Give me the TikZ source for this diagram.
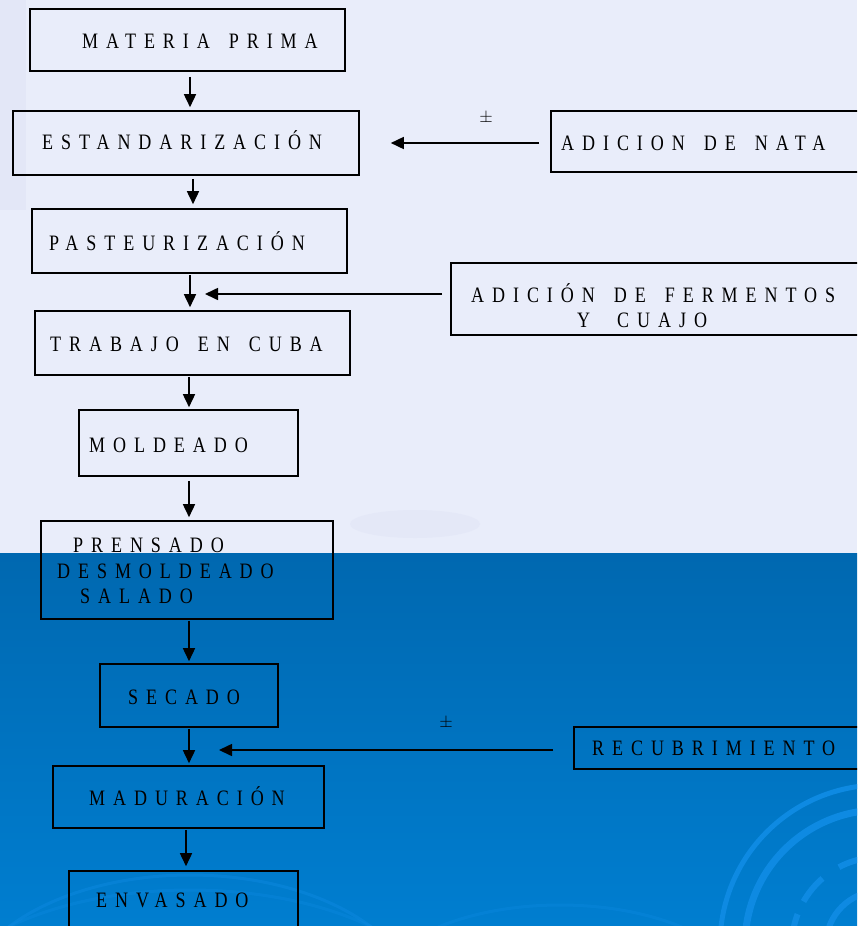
\documentclass[tikz,border=0pt]{standalone}
\usepackage{fontspec}
\setmainfont{Liberation Serif}[FakeStretch=0.82,LetterSpace=36,WordSpace=1.53]
\usetikzlibrary{arrows.meta}
\definecolor{bgtop}{RGB}{233,237,250}
\definecolor{bgsoft}{RGB}{214,218,242}
\definecolor{bluetop}{RGB}{0,104,176}
\definecolor{bluebot}{RGB}{0,126,208}
\definecolor{arcblue}{RGB}{14,138,226}
\tikzset{
  box/.style={draw=black, line width=1.6pt, inner sep=0pt},
  lbl/.style={anchor=base west, inner sep=0pt, font=\fontsize{22}{24}\selectfont},
  pm/.style={inner sep=0pt, font=\fontsize{18}{19}\selectfont},
  arr/.style={line width=1.6pt, -{Triangle[length=13pt,width=12pt]}},
  deco/.style={arcblue, line width=#1},
}
\begin{document}
\begin{tikzpicture}[x=1pt,y=-1pt]
\useasboundingbox (0,0) rectangle (857,926);
\clip (0,0) rectangle (857,926);
% background
\fill[bgtop] (0,0) rectangle (857,553);
\fill[bgsoft, opacity=0.3] (0,0) rectangle (26,210);
\fill[bgsoft, opacity=0.25] (415,524) ellipse (65 and 14);
\shade[top color=bluetop, bottom color=bluebot] (0,553) rectangle (857,926);
\draw[deco=5pt] (880,945) circle (160);
\draw[deco=7pt] (880,945) circle (135);
\draw[deco=6pt, dash pattern=on 60pt off 14pt on 30pt off 20pt] (880,945) circle (88);
\draw[deco=6pt] (880,945) circle (54);
\draw[deco=3pt, opacity=0.45] (190,1010) ellipse (230 and 135);
\draw[deco=3pt, opacity=0.35] (190,1020) ellipse (260 and 130);
\draw[deco=3pt, opacity=0.35] (560,1000) ellipse (190 and 95);
% main column boxes
\node[box, minimum width=315pt, minimum height=62pt] (m1) at (187.5,40) {};
\node[box, minimum width=346pt, minimum height=64pt] (m2) at (186,143) {};
\node[box, minimum width=315pt, minimum height=64pt] (m3) at (189.5,241) {};
\node[box, minimum width=315pt, minimum height=64pt] (m4) at (192.5,343) {};
\node[box, minimum width=219pt, minimum height=66pt] (m5) at (188.5,443) {};
\node[box, minimum width=292pt, minimum height=98pt] (m6) at (187,570) {};
\node[box, minimum width=178pt, minimum height=63pt] (m7) at (189,695.5) {};
\node[box, minimum width=271pt, minimum height=62pt] (m8) at (188.5,797) {};
\node[box, minimum width=229pt, minimum height=89pt] (m9) at (183.5,915.5) {};
% side boxes
\node[box, minimum width=319pt, minimum height=61pt] (r1) at (710.5,141.5) {};
\node[box, minimum width=419pt, minimum height=72pt] (r2) at (660.5,299) {};
\node[box, minimum width=296pt, minimum height=42pt] (r3) at (722,748) {};
% texts
\node[lbl] (t1) at (82,48) {MATERIA PRIMA};
\node[lbl] (t2) at (42,149) {ESTANDARIZACIÓN};
\node[lbl] (t3) at (49,250) {PASTEURIZACIÓN};
\node[lbl] (t4) at (50,351) {TRABAJO EN CUBA};
\node[lbl] (t5) at (89,452) {MOLDEADO};
\node[lbl] (t6a) at (73,552) {PRENSADO};
\node[lbl] (t6b) at (57,578) {DESMOLDEADO};
\node[lbl] (t6c) at (80,603) {SALADO};
\node[lbl] (t7) at (128,704) {SECADO};
\node[lbl] (t8) at (89,805) {MADURACIÓN};
\node[lbl] (t9) at (96,907) {ENVASADO};
\node[lbl] (tr1) at (561,150) {ADICION DE NATA};
\node[lbl] (tr2a) at (471,302) {ADICIÓN DE FERMENTOS};
\node[lbl] (tr2b) at (577,327) {Y\hspace{8pt} CUAJO};
\node[lbl] (tr3) at (592,755) {RECUBRIMIENTO};
\node[pm] (pm1) at (486,118) {$\pm$};
\node[pm] (pm2) at (446,723) {$\pm$};
% junction points on the flow
\coordinate (j1) at (190,294);
\coordinate (j2) at (189,750);
% vertical arrows
\draw[arr, shorten <=5pt, shorten >=3pt] ([xshift=2.5pt]m1.south) -- ([xshift=4pt]m2.north);
\draw[arr, shorten <=3pt, shorten >=4pt] ([xshift=7pt]m2.south) -- ([xshift=3.5pt]m3.north);
\draw[arr, shorten <=1pt, shorten >=3pt] ([xshift=0.5pt]m3.south) -- ([xshift=-2.5pt]m4.north);
\draw[arr, shorten <=1pt, shorten >=2pt] ([xshift=-3.5pt]m4.south) -- ([xshift=0.5pt]m5.north);
\draw[arr, shorten <=4pt, shorten >=3pt] ([xshift=0.5pt]m5.south) -- ([xshift=2pt]m6.north);
\draw[arr, shorten <=1pt, shorten >=2pt] ([xshift=2pt]m6.south) -- ([xshift=0pt]m7.north);
\draw[arr, shorten <=1pt, shorten >=2pt] ([xshift=0pt]m7.south) -- ([xshift=0.5pt]m8.north);
\draw[arr, shorten <=1pt, shorten >=4pt] ([xshift=-2.5pt]m8.south) -- ([xshift=2.5pt]m9.north);
% side arrows
\draw[arr, shorten <=11pt, shorten >=31pt] ([yshift=-1.5pt]r1.west) -- (m2.east);
\draw[arr, shorten <=8pt, shorten >=15pt] ([yshift=5pt]r2.west) -- (j1);
\draw[arr, shorten <=20pt, shorten >=30pt] ([yshift=-2pt]r3.west) -- (j2);
\end{tikzpicture}
\end{document}
